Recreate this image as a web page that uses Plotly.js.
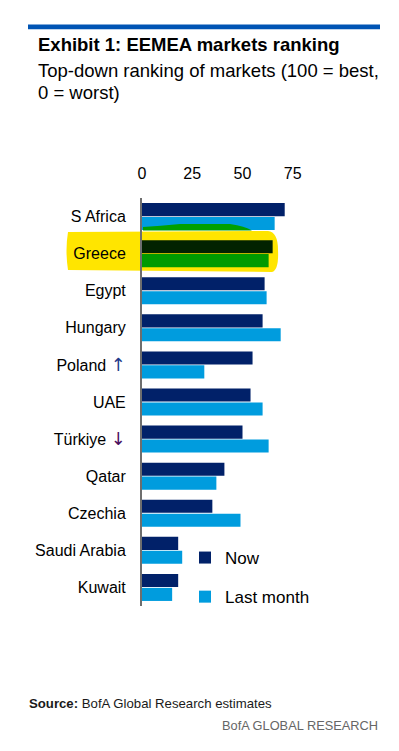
<!DOCTYPE html>
<html>
<head>
<meta charset="utf-8">
<script src="https://cdn.plot.ly/plotly-3.0.1.min.js"></script>
<style>
html,body{margin:0;padding:0;background:#fff;}
#chart{width:399px;height:751px;}
</style>
</head>
<body>
<div id="chart"></div>
<script>
const categories = ["S Africa","Greece","Egypt","Hungary","Poland ↑","UAE","Türkiye ↓","Qatar","Czechia","Saudi Arabia","Kuwait"];
const nowValues = [71, 65, 61, 60, 55, 54, 50, 41, 35, 18, 18];
const lastMonthValues = [66, 63, 62, 69, 31, 60, 63, 37, 49, 20, 15];
const tickValues = [0, 25, 50, 75];
const seriesNames = ["Now", "Last month"];

const NAVY = "#012169", LIGHT = "#009cde";
const highlighted = "Greece";
const nowColors = categories.map(c => c === highlighted ? "#022200" : NAVY);
const lastColors = categories.map(c => c === highlighted ? "#009a00" : LIGHT);

const arrowSpan = (ch, col) => `<span style="font-family:'DejaVu Sans';font-size:18px;fill:${col};color:${col}">${ch}</span>`;
const tickText = categories.map(c => {
  if (c.endsWith("↑")) return c.slice(0, -1) + arrowSpan("↑", "#1f3a8a");
  if (c.endsWith("↓")) return c.slice(0, -1) + arrowSpan("↓", "#4a1060");
  return c;
});

const ARIAL = "Liberation Sans, Arial, sans-serif";

const traces = [
  {type:"bar", orientation:"h", name:seriesNames[0], y:categories, x:nowValues,
   marker:{color:nowColors}, legendgroup:"a", hoverinfo:"x+y"},
  {type:"bar", orientation:"h", name:seriesNames[1], y:categories, x:lastMonthValues,
   marker:{color:lastColors}, legendgroup:"b", hoverinfo:"x+y"}
];

// pixel -> paper helpers (plot area: x 142..343, y 198..606)
const PL = 142, PW = 201, PT = 198, PB = 606, PH = PB - PT;
const px = v => (v - PL) / PW;
const py = v => (PB - v) / PH;

const layout = {
  width:399, height:751,
  margin:{l:PL, r:399-PL-PW, t:PT, b:751-PB, pad:0},
  paper_bgcolor:"#fff", plot_bgcolor:"#fff",
  barmode:"group", bargap:0.25, bargroupgap:0.06,
  showlegend:true,
  legend:{x:px(185), xanchor:"left", y:py(540), yanchor:"top",
    font:{family:ARIAL, size:17, color:"#000"}, traceorder:"grouped", tracegroupgap:14,
    bgcolor:"rgba(0,0,0,0)", itemclick:false},
  xaxis:{range:[0,100], side:"top", tickvals:tickValues, ticktext:tickValues.map(String),
    showgrid:false, zeroline:false, showline:false, ticks:"outside", ticklen:12,
    tickcolor:"rgba(0,0,0,0)", tickfont:{family:ARIAL, size:16, color:"#000"}, fixedrange:true},
  yaxis:{type:"category", autorange:"reversed", tickvals:categories, ticktext:tickText,
    showline:true, linecolor:"#6e6e6e", linewidth:2, showgrid:false, zeroline:false,
    ticks:"outside", ticklen:11, tickcolor:"rgba(0,0,0,0)",
    tickfont:{family:ARIAL, size:16, color:"#000"}, fixedrange:true},
  shapes:[
    {type:"rect", xref:"paper", yref:"paper", x0:px(28), x1:px(380), y0:py(29.3), y1:py(24.5),
     fillcolor:"#0054b4", line:{width:0}},
    {type:"path", xref:"paper", yref:"paper", layer:"below",
     path:`M ${px(68)},${py(232)} Q ${px(65)},${py(250)} ${px(68)},${py(270)} L ${px(272)},${py(272)} Q ${px(279)},${py(270)} ${px(278)},${py(250)} Q ${px(278)},${py(232)} ${px(268)},${py(231)} Z`,
     fillcolor:"#ffe500", line:{width:0}},
    {type:"path", xref:"paper", yref:"paper", layer:"above",
     path:`M ${px(143)},${py(230.5)} L ${px(143)},${py(227)} Q ${px(160)},${py(226)} ${px(180)},${py(224)} L ${px(230)},${py(224)} Q ${px(245)},${py(226)} ${px(252)},${py(230.5)} Z`,
     fillcolor:"#00a000", line:{width:0}}
  ],
  annotations:[
    {xref:"paper", yref:"paper", x:px(36), y:py(44), xanchor:"left", yanchor:"middle", showarrow:false,
     text:"<b>Exhibit 1: EEMEA markets ranking</b>", font:{family:ARIAL, size:18.5, color:"#000"}},
    {xref:"paper", yref:"paper", x:px(36), y:py(70.5), xanchor:"left", yanchor:"middle", showarrow:false,
     text:"Top-down ranking of markets (100 = best,", font:{family:ARIAL, size:18.5, color:"#000"}},
    {xref:"paper", yref:"paper", x:px(36), y:py(92), xanchor:"left", yanchor:"middle", showarrow:false,
     text:"0 = worst)", font:{family:ARIAL, size:18.5, color:"#000"}},
    {xref:"paper", yref:"paper", x:px(27), y:py(703), xanchor:"left", yanchor:"middle", showarrow:false,
     text:"<b>Source:</b> BofA Global Research estimates", font:{family:ARIAL, size:13.2, color:"#1a1a1a"}},
    {xref:"paper", yref:"paper", x:px(380), y:py(725), xanchor:"right", yanchor:"middle", showarrow:false,
     text:"BofA GLOBAL RESEARCH", font:{family:ARIAL, size:12.8, color:"#666"}}
  ]
};

Plotly.newPlot("chart", traces, layout, {displayModeBar:false, staticPlot:true});
</script>
</body>
</html>
